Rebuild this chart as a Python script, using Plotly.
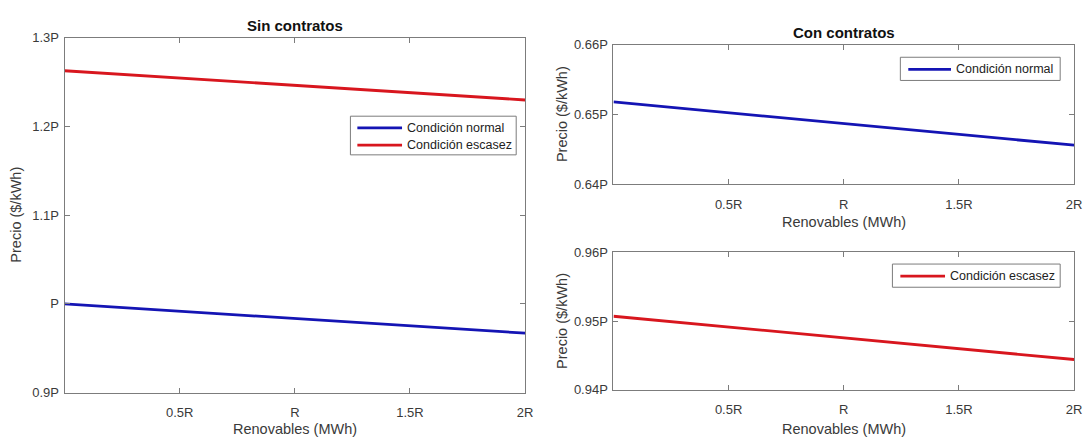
import plotly.graph_objects as go

# Renewable generation (multiples of R) and resulting price (multiples of P)
renovables = [0, 2]
x_tickvals = [0.5, 1, 1.5, 2]
x_ticktext = ["0.5R", "R", "1.5R", "2R"]

sin_normal = [1.000, 0.967]
sin_escasez = [1.263, 1.230]
con_normal = [0.6518, 0.6456]
con_escasez = [0.9507, 0.9444]

sin_yticks = [0.9, 1.0, 1.1, 1.2, 1.3]
sin_yticktext = ["0.9P", "P", "1.1P", "1.2P", "1.3P"]
con_n_yticks = [0.64, 0.65, 0.66]
con_n_yticktext = ["0.64P", "0.65P", "0.66P"]
con_e_yticks = [0.94, 0.95, 0.96]
con_e_yticktext = ["0.94P", "0.95P", "0.96P"]

W, H = 1092, 446
BLUE = "#1414b4"
RED = "#d8161e"
AXC = "#7c7c7c"
TXT = "#3a3a3a"
FONT = "Liberation Sans, Arial, sans-serif"


def px(x):
    return x / W


def py(y):
    return 1 - y / H


fig = go.Figure()
fig.add_trace(go.Scatter(x=renovables, y=sin_normal, mode="lines",
                         line=dict(color=BLUE, width=2.8), xaxis="x", yaxis="y",
                         showlegend=False))
fig.add_trace(go.Scatter(x=renovables, y=sin_escasez, mode="lines",
                         line=dict(color=RED, width=2.8), xaxis="x", yaxis="y",
                         showlegend=False))
fig.add_trace(go.Scatter(x=renovables, y=con_normal, mode="lines",
                         line=dict(color=BLUE, width=2.8), xaxis="x2", yaxis="y2",
                         showlegend=False))
fig.add_trace(go.Scatter(x=renovables, y=con_escasez, mode="lines",
                         line=dict(color=RED, width=2.8), xaxis="x3", yaxis="y3",
                         showlegend=False))

common = dict(showline=True, linecolor=AXC, linewidth=1, mirror="ticks",
              ticks="inside", ticklen=5, tickcolor=AXC, tickwidth=1,
              showgrid=False, zeroline=False,
              tickfont=dict(family=FONT, size=13, color=TXT))

xcommon = dict(common, range=[0, 2], tickvals=x_tickvals, ticktext=x_ticktext,
               ticklabelstandoff=8)
ycommon = dict(common, ticklabelstandoff=2)

left_x = [px(65), px(529)]
right_x = [px(618), px(1082)]

fig.update_layout(
    width=W, height=H,
    margin=dict(l=0, r=0, t=0, b=0),
    paper_bgcolor="white", plot_bgcolor="white",
    showlegend=False,
    xaxis=dict(xcommon, domain=left_x, anchor="y"),
    yaxis=dict(ycommon, domain=[py(399), py(32)], range=[0.9, 1.3],
               tickvals=sin_yticks, ticktext=sin_yticktext, anchor="x"),
    xaxis2=dict(xcommon, domain=right_x, anchor="y2"),
    yaxis2=dict(ycommon, domain=[py(183.5), py(39)], range=[0.64, 0.66],
                tickvals=con_n_yticks, ticktext=con_n_yticktext, anchor="x2"),
    xaxis3=dict(xcommon, domain=right_x, anchor="y3"),
    yaxis3=dict(ycommon, domain=[py(396), py(254)], range=[0.94, 0.96],
                tickvals=con_e_yticks, ticktext=con_e_yticktext, anchor="x3"),
)

annotations = []


def text(x, y, s, size, bold=False, angle=0, xanchor="center"):
    annotations.append(dict(
        x=px(x), y=py(y), xref="paper", yref="paper", text=f"<b>{s}</b>" if bold else s,
        showarrow=False, xanchor=xanchor, yanchor="middle", textangle=angle,
        font=dict(family=FONT, size=size, color="#111111" if bold else TXT)))


# Subplot titles
text(297, 19, "Sin contratos", 15, bold=True)
text(850, 26, "Con contratos", 15, bold=True)

# Axis titles
text(297, 437, "Renovables (MWh)", 14.5)
text(850, 222, "Renovables (MWh)", 14.5)
text(850, 437, "Renovables (MWh)", 14.5)
text(16, 215, "Precio ($/kWh)", 14.5, angle=-90)
text(566, 111, "Precio ($/kWh)", 14.5, angle=-90)
text(566, 325, "Precio ($/kWh)", 14.5, angle=-90)

shapes = []


def legend_box(x0, y0, x1, y1, items):
    shapes.append(dict(type="rect", xref="paper", yref="paper",
                       x0=px(x0), y0=py(y1), x1=px(x1), y1=py(y0),
                       line=dict(color=AXC, width=1), fillcolor="white", layer="above"))
    for lx0, lx1, ly, color, label in items:
        shapes.append(dict(type="line", xref="paper", yref="paper",
                           x0=px(lx0), x1=px(lx1), y0=py(ly), y1=py(ly),
                           line=dict(color=color, width=2.8), layer="above"))
        annotations.append(dict(
            x=px(lx1 + 3), y=py(ly), xref="paper", yref="paper", text=label,
            showarrow=False, xanchor="left", yanchor="middle",
            font=dict(family=FONT, size=12.5, color="#222222")))


legend_box(353, 113, 520, 153, [
    (360, 405, 125, BLUE, "Condición normal"),
    (360, 405, 143, RED, "Condición escasez"),
])
legend_box(907, 52, 1068, 76, [
    (915, 958, 64.5, BLUE, "Condición normal"),
])
legend_box(899, 266, 1068, 290, [
    (907, 952, 278.5, RED, "Condición escasez"),
])

fig.update_layout(annotations=annotations, shapes=shapes)

fig.write_html("out.html")
